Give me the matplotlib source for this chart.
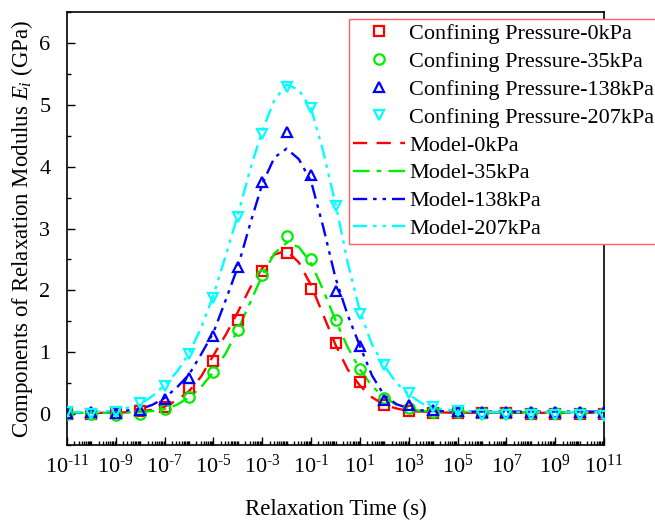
import numpy as np
import matplotlib
matplotlib.use("Agg")
import matplotlib.pyplot as plt
from matplotlib.ticker import FixedLocator, MultipleLocator, NullFormatter

plt.rcParams['font.family'] = ['Liberation Serif', 'DejaVu Serif']
plt.rcParams['mathtext.fontset'] = 'custom'
plt.rcParams['mathtext.rm'] = 'Liberation Serif'
plt.rcParams['mathtext.it'] = 'Liberation Serif:italic'
plt.rcParams['axes.unicode_minus'] = False

# ---- data ----
exp_pts = list(range(-11, 12))
E_0 = [0.0, 0.0, 0.02, 0.05, 0.12, 0.42, 0.86, 1.52, 2.31, 2.6, 2.02, 1.15, 0.52, 0.15, 0.05, 0.02, 0.02, 0.01, 0.01, 0.0, 0.0, 0.0, 0.0]
E_35 = [0.0, 0.0, -0.01, 0.0, 0.08, 0.27, 0.68, 1.36, 2.25, 2.88, 2.5, 1.52, 0.73, 0.26, 0.1, 0.04, 0.03, 0.02, 0.02, 0.02, 0.02, 0.02, 0.02]
E_138 = [0.02, 0.03, 0.02, 0.06, 0.24, 0.58, 1.26, 2.38, 3.75, 4.56, 3.86, 1.99, 1.1, 0.22, 0.14, 0.06, 0.05, 0.04, 0.04, 0.04, 0.04, 0.04, 0.04]
E_207 = [0.03, 0.0, 0.03, 0.18, 0.45, 0.97, 1.88, 3.19, 4.53, 5.29, 4.95, 3.37, 1.62, 0.8, 0.34, 0.12, 0.05, -0.01, -0.02, -0.02, -0.02, -0.02, -0.03]

exp_model = [-11, -10, -9, -8, -7.5, -7, -6.5, -6, -5.5, -5, -4.5, -4, -3.5, -3, -2.5, -2, -1.5, -1, -0.5,
             0, 0.5, 1, 1.5, 2, 2.5, 3, 3.5, 4, 5, 6, 7, 8, 9, 10, 11]
M_0 = [0.02, 0.02, 0.02, 0.04, 0.07, 0.12, 0.22, 0.37, 0.61, 0.95, 1.28, 1.65, 2.04, 2.36, 2.58, 2.64, 2.45, 2.08, 1.6,
       1.12, 0.72, 0.46, 0.27, 0.15, 0.09, 0.05, 0.04, 0.03, 0.02, 0.02, 0.02, 0.02, 0.02, 0.02, 0.02]
M_35 = [0.02, 0.02, 0.02, 0.03, 0.05, 0.08, 0.15, 0.27, 0.44, 0.68, 0.98, 1.36, 1.8, 2.24, 2.6, 2.77, 2.7, 2.44, 2.0,
        1.52, 1.08, 0.72, 0.45, 0.27, 0.15, 0.09, 0.05, 0.04, 0.03, 0.03, 0.03, 0.03, 0.03, 0.03, 0.03]
M_138 = [0.03, 0.03, 0.04, 0.08, 0.15, 0.26, 0.43, 0.64, 0.97, 1.32, 1.84, 2.38, 3.07, 3.72, 4.15, 4.29, 4.12, 3.76, 3.02,
         2.2, 1.6, 1.1, 0.62, 0.3, 0.16, 0.09, 0.06, 0.05, 0.04, 0.04, 0.04, 0.04, 0.04, 0.04, 0.04]
M_207 = [0.03, 0.03, 0.05, 0.16, 0.29, 0.47, 0.68, 0.98, 1.4, 1.92, 2.56, 3.22, 3.95, 4.58, 5.08, 5.33, 5.24, 4.94, 4.24,
         3.4, 2.45, 1.66, 1.12, 0.78, 0.5, 0.32, 0.18, 0.1, 0.05, 0.03, 0.03, 0.03, 0.03, 0.03, 0.03]

x_tick_exps = list(range(-11, 12, 2))
x_tick_labels = [r'$\mathregular{10^{\text{' + str(k) + '}}}$' for k in x_tick_exps]

labels_pts = ['Confining Pressure-0kPa', 'Confining Pressure-35kPa',
              'Confining Pressure-138kPa', 'Confining Pressure-207kPa']
labels_model = ['Model-0kPa', 'Model-35kPa', 'Model-138kPa', 'Model-207kPa']
colors = ['#FF0000', '#00EE00', '#0000FF', '#00FFFF']
markers = ['s', 'o', '^', 'v']
styles = [(0, (6, 4)), (0, (7, 3, 2, 3)), (0, (6, 2.5, 1.5, 2.5, 1.5, 2.5)), (0, (6, 2.5, 1.5, 2.5, 1.5, 2.5))]

fig = plt.figure(figsize=(6.55, 5.22), dpi=100)
ax = fig.add_axes([67/655, 1-445/522, (604-67)/655, (445-12)/522])

t_pts = np.power(10.0, exp_pts)
t_mod = np.power(10.0, exp_model)
pts_series = [E_0, E_35, E_138, E_207]
mod_series = [M_0, M_35, M_138, M_207]

handles_p = []
handles_m = []
for i in range(4):
    h, = ax.plot(t_pts, pts_series[i], linestyle='none', marker=markers[i], markersize=7.5,
                 markerfacecolor='none', markeredgecolor=colors[i], markeredgewidth=1.6,
                 label=labels_pts[i], zorder=3)
    handles_p.append(h)
for i in range(4):
    h, = ax.plot(t_mod, mod_series[i], color=colors[i], linestyle=styles[i], linewidth=1.7,
                 label=labels_model[i], zorder=2)
    handles_m.append(h)

ax.set_xscale('log')
ax.set_xlim(1e-11, 1e11)
ax.set_ylim(-0.5, 6.5)

ax.xaxis.set_major_locator(FixedLocator([10.0**k for k in x_tick_exps]))
ax.set_xticklabels(x_tick_labels)
ax.xaxis.set_minor_locator(FixedLocator([10.0**k for k in range(-10, 11, 2)] +
                                        [m * 10.0**k for k in range(-11, 11) for m in range(2, 10)]))
ax.xaxis.set_minor_formatter(NullFormatter())
ax.yaxis.set_major_locator(MultipleLocator(1))
ax.yaxis.set_minor_locator(MultipleLocator(0.5))

ax.tick_params(which='major', direction='in', length=6, width=1, labelsize=16, top=False, right=False)
ax.tick_params(which='minor', direction='in', length=3, width=1, top=False, right=False)
ax.tick_params(axis='x', which='major', pad=7)
ax.tick_params(axis='y', which='major', pad=12)
for s in ax.spines.values():
    s.set_linewidth(1.2)

ax.set_xlabel('Relaxation Time (s)', fontsize=16.5, labelpad=15)
ax.set_ylabel('Components of Relaxation Modulus $E_i$ (GPa)', fontsize=16.5, labelpad=3)

leg = ax.legend(handles_p + handles_m, labels_pts + labels_model, loc='upper left',
                bbox_to_anchor=(349/655, 1-19/522), bbox_transform=fig.transFigure,
                fontsize=16, frameon=True, fancybox=False, edgecolor='#FF6060',
                framealpha=1, borderpad=0.2, labelspacing=0.33, handlelength=2.3,
                handletextpad=0.2, numpoints=1, borderaxespad=0)
leg.get_frame().set_linewidth(1.0)

fig.savefig('out.png', dpi=100)
